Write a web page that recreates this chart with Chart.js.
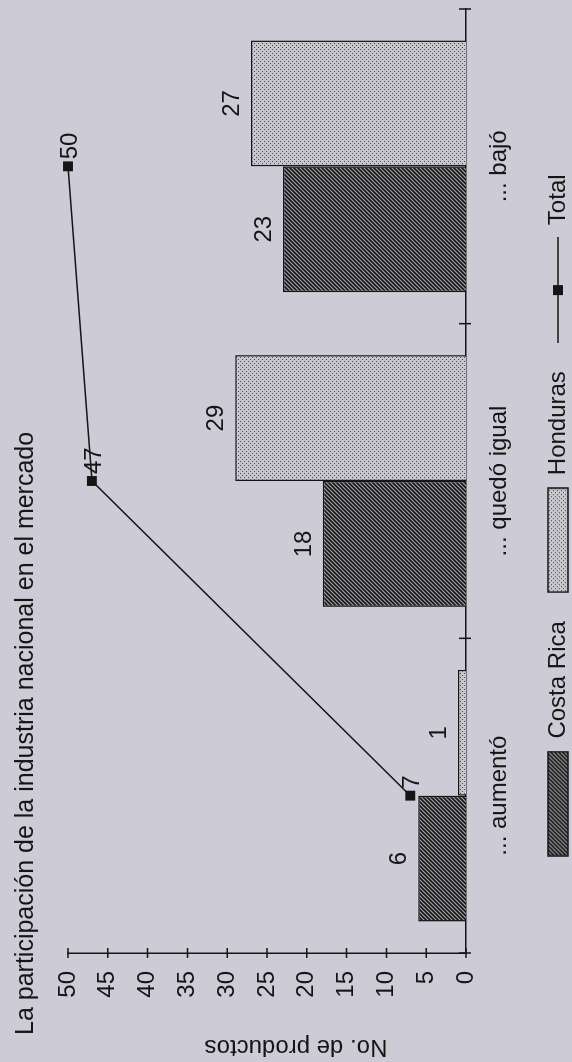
<!DOCTYPE html>
<html lang="es">
<head>
<meta charset="utf-8">
<title>Participación de la industria nacional</title>
<script src="https://cdn.jsdelivr.net/npm/chart.js@4/dist/chart.umd.min.js"></script>
<style>
  html, body {
    margin: 0;
    width: 572px;
    height: 1062px;
    overflow: hidden;
    background: #cdcbd5;
  }
  /* the chart is laid out landscape and turned a quarter to the left */
  #wrap {
    position: absolute;
    left: 0;
    top: 0;
    width: 1062px;
    height: 572px;
    transform-origin: 0 0;
    transform: translate(0, 1062px) rotate(-90deg);
  }
</style>
</head>
<body>
<div id="wrap"><canvas id="chart" width="1062" height="572"></canvas></div>
<script>
const categories = ['... aumentó', '... quedó igual', '... bajó'];
const costaRica = [6, 18, 23];
const honduras = [1, 29, 27];
const total = [7, 47, 50];
const yMin = 0;
const yMax = 50;
const yStep = 5;

const chartTitle = 'La participación de la industria nacional en el mercado';
const yTitle = 'No. de productos';

const ink = '#151515';
const fontFamily = '"Liberation Sans", Arial, Helvetica, sans-serif';
const swatchWidth = 106;

// Fill patterns: dense diagonal hatch and a fine stipple
function makePattern(ctx, kind) {
  const tile = document.createElement('canvas');
  tile.width = 4;
  tile.height = 4;
  const g = tile.getContext('2d');
  if (kind === 'hatch') {
    g.fillStyle = '#a3a2a9';
    g.fillRect(0, 0, 4, 4);
    g.strokeStyle = '#141414';
    g.lineWidth = 1.6;
    g.beginPath();
    g.moveTo(0, 4); g.lineTo(4, 0);
    g.moveTo(-1, 1); g.lineTo(1, -1);
    g.moveTo(3, 5); g.lineTo(5, 3);
    g.stroke();
  } else {
    g.fillStyle = '#c8c7ce';
    g.fillRect(0, 0, 4, 4);
    g.fillStyle = '#47474b';
    g.fillRect(0, 0, 1, 1);
    g.fillRect(2, 2, 1, 1);
  }
  return ctx.createPattern(tile, 'repeat');
}

// Legend swatches drawn as small canvases
function swatch(kind) {
  const c = document.createElement('canvas');
  c.width = swatchWidth;
  c.height = 22;
  const g = c.getContext('2d');
  if (kind === 'line') {
    g.strokeStyle = ink;
    g.lineWidth = 1.5;
    g.beginPath();
    g.moveTo(0, 11);
    g.lineTo(swatchWidth, 11);
    g.stroke();
    g.fillStyle = ink;
    g.fillRect(swatchWidth / 2 - 5, 6, 10, 10);
  } else {
    g.fillStyle = makePattern(g, kind);
    g.fillRect(1, 1, swatchWidth - 2, 20);
    g.strokeStyle = ink;
    g.lineWidth = 1.5;
    g.strokeRect(1, 1, swatchWidth - 2, 20);
  }
  return c;
}

const canvas = document.getElementById('chart');
const ctx = canvas.getContext('2d');

const swatches = [swatch('hatch'), swatch('dots'), swatch('line')];

const decorations = {
  id: 'decorations',
  beforeDraw(chart) {
    const c = chart.ctx;
    c.save();
    c.fillStyle = '#cdcbd5';
    c.fillRect(0, 0, chart.width, chart.height);
    c.restore();
  },
  afterDatasetsDraw(chart) {
    const c = chart.ctx;
    c.save();
    c.fillStyle = ink;
    c.font = '24px ' + fontFamily;
    chart.data.datasets.forEach((ds, i) => {
      const meta = chart.getDatasetMeta(i);
      meta.data.forEach((el, j) => {
        const v = ds.data[j];
        if (meta.type === 'bar') {
          c.textAlign = 'center';
          c.textBaseline = 'alphabetic';
          c.fillText(String(v), el.x, el.y - 12);
        } else {
          c.textAlign = 'left';
          c.textBaseline = 'alphabetic';
          c.fillText(String(v), el.x + 7, el.y + 9);
        }
      });
    });
    c.restore();
  },
  afterDraw(chart) {
    const c = chart.ctx;
    const x = chart.scales.x;
    const y = chart.scales.y;
    c.save();
    c.strokeStyle = ink;
    c.lineWidth = 1.5;
    c.beginPath();
    // tick crosses on the value axis
    for (let v = yMin; v <= yMax; v += yStep) {
      const py = y.getPixelForValue(v);
      c.moveTo(x.left - 5, py);
      c.lineTo(x.left + 5, py);
    }
    // tick crosses between categories
    for (let i = 0; i <= categories.length; i++) {
      const px = x.getPixelForValue(i - 0.5);
      c.moveTo(px, y.bottom - 7);
      c.lineTo(px, y.bottom + 5);
    }
    c.stroke();

    c.fillStyle = ink;
    c.textBaseline = 'alphabetic';
    c.font = '25px ' + fontFamily;
    c.textAlign = 'left';
    c.fillText(chartTitle, 27, 33);

    c.font = '24px ' + fontFamily;
    c.translate(22, 296);
    c.rotate(-Math.PI / 2);
    c.textAlign = 'center';
    c.fillText(yTitle, 0, 0);
    c.restore();
  }
};

new Chart(ctx, {
  type: 'bar',
  data: {
    labels: categories,
    datasets: [
      {
        label: 'Costa Rica',
        data: costaRica,
        backgroundColor: makePattern(ctx, 'hatch'),
        borderColor: ink,
        borderWidth: 1.5,
        categoryPercentage: 0.8,
        barPercentage: 1.0,
        order: 1,
      },
      {
        label: 'Honduras',
        data: honduras,
        backgroundColor: makePattern(ctx, 'dots'),
        borderColor: ink,
        borderWidth: 1.5,
        categoryPercentage: 0.8,
        barPercentage: 1.0,
        order: 1,
      },
      {
        type: 'line',
        label: 'Total',
        data: total,
        borderColor: ink,
        backgroundColor: ink,
        borderWidth: 1.5,
        pointStyle: 'rect',
        pointRadius: 7,
        pointBorderWidth: 0,
        fill: false,
        clip: false,
        order: 0,
      },
    ],
  },
  options: {
    responsive: false,
    animation: false,
    devicePixelRatio: 1,
    layout: {
      padding: { left: 40, right: 9, top: 68, bottom: -8 },
    },
    plugins: {
      title: { display: false },
      tooltip: { enabled: false },
      legend: {
        position: 'bottom',
        labels: {
          color: ink,
          font: { size: 24, family: fontFamily },
          usePointStyle: true,
          pointStyleWidth: swatchWidth,
          boxHeight: 22,
          padding: 28,
          generateLabels: function (chart) {
            return chart.data.datasets.map((ds, i) => ({
              text: ds.label,
              pointStyle: swatches[i],
              fillStyle: 'rgba(0,0,0,0)',
              strokeStyle: 'rgba(0,0,0,0)',
              lineWidth: 0,
              fontColor: ink,
              hidden: false,
              datasetIndex: i,
            }));
          },
        },
      },
    },
    scales: {
      x: {
        offset: true,
        grid: { display: false, drawTicks: false },
        border: { display: true, color: ink, width: 1.5 },
        ticks: {
          color: ink,
          font: { size: 24, family: fontFamily },
          padding: 19,
          maxRotation: 0,
          autoSkip: false,
        },
        afterFit: function (scale) {
          scale.height = 52;
        },
      },
      y: {
        min: yMin,
        max: yMax,
        grid: { display: false, drawTicks: false },
        border: { display: true, color: ink, width: 1.5 },
        ticks: {
          stepSize: yStep,
          color: ink,
          font: { size: 24, family: fontFamily },
          padding: 18,
        },
        afterFit: function (scale) {
          scale.width = 69;
        },
      },
    },
  },
  plugins: [decorations],
});
</script>
</body>
</html>
